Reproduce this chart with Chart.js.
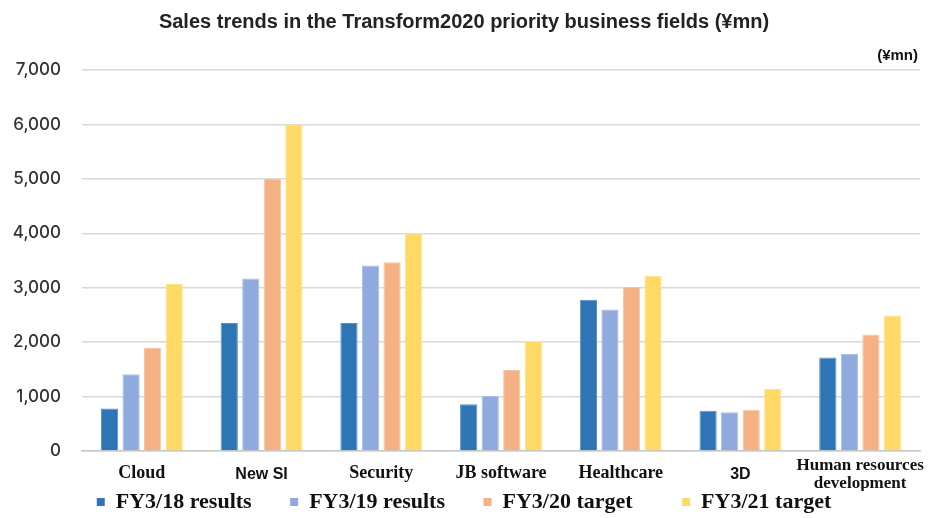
<!DOCTYPE html>
<html>
<head>
<meta charset="utf-8">
<title>Sales trends</title>
<script src="https://cdn.jsdelivr.net/npm/chart.js@4/dist/chart.umd.min.js"></script>
<style>
  html, body { margin: 0; padding: 0; background: #fff; }
  #wrap { width: 934px; height: 518px; position: relative; }
</style>
</head>
<body>
<div id="wrap"><canvas id="salesChart"></canvas></div>
<script>
// Business fields and sales figures (¥mn)
var fields = ["Cloud", "New SI", "Security", "JB software", "Healthcare", "3D", ["Human resources", "development"]];
var fy18 = [780, 2350, 2350, 860, 2780, 740, 1720];
var fy19 = [1410, 3170, 3410, 1010, 2600, 710, 1780];
var fy20 = [1900, 5000, 3470, 1490, 3020, 760, 2140];
var fy21 = [3070, 6000, 4000, 2020, 3220, 1140, 2490];
var seriesNames = ["FY3/18 results", "FY3/19 results", "FY3/20 target", "FY3/21 target"];
var colors = ["#2E75B6", "#8FAADC", "#F4B183", "#FFD966"];
var edgeColors = ["#5a92c6", "#aabfe6", "#f7c5a2", "#ffe28c"];
var yTicks = [0, 1000, 2000, 3000, 4000, 5000, 6000, 7000];

var serif = "'Liberation Serif', 'Times New Roman', serif";
var sans = "'Liberation Sans', Arial, sans-serif";
// extra spaces after each legend entry
var legendGaps = [7, 7, 9, 0];

// unit label above the top right of the plot
var unitLabel = {
  id: "unitLabel",
  afterDraw: function (chart) {
    var ctx = chart.ctx;
    var area = chart.chartArea;
    ctx.save();
    ctx.font = "bold 15px " + sans;
    ctx.fillStyle = "#111";
    ctx.textAlign = "right";
    ctx.textBaseline = "middle";
    ctx.fillText("(¥mn)", area.right - 2, area.top - 14);
    ctx.restore();
  }
};

var ctx = document.getElementById("salesChart").getContext("2d");
new Chart(ctx, {
  type: "bar",
  data: {
    labels: fields,
    datasets: [fy18, fy19, fy20, fy21].map(function (vals, i) {
      return {
        label: seriesNames[i],
        data: vals,
        backgroundColor: colors[i],
        borderColor: edgeColors[i],
        borderWidth: 1,
        categoryPercentage: 0.72,
        barPercentage: 0.8
      };
    })
  },
  options: {
    responsive: true,
    maintainAspectRatio: false,
    animation: false,
    layout: { padding: { left: 8, right: 14, bottom: -5 } },
    plugins: {
      title: {
        display: true,
        text: "Sales trends in the Transform2020 priority business fields (¥mn)",
        font: { family: sans, size: 20, weight: "bold" },
        color: "#222",
        padding: { top: 10, bottom: 36 }
      },
      legend: {
        position: "bottom",
        labels: {
          boxWidth: 8,
          boxHeight: 8,
          padding: 0,
          color: "#111",
          font: { family: serif, size: 22, weight: "bold", lineHeight: 1 },
          // trailing spaces keep the wide gaps between legend entries
          generateLabels: function (chart) {
            var items = Chart.defaults.plugins.legend.labels.generateLabels(chart);
            items.forEach(function (it, i) {
              it.text = it.text + " ".repeat(legendGaps[i]);
              it.strokeStyle = colors[i];
              it.lineWidth = 0;
            });
            return items;
          }
        }
      },
      tooltip: { enabled: false }
    },
    scales: {
      x: {
        grid: { display: false, drawTicks: false },
        border: { color: "#c8c8c8", width: 1.5 },
        afterFit: function (axis) {
          axis.height = 40;
          // the long last label may run into the right margin
          axis.paddingLeft = 0;
          axis.paddingRight = 0;
        },
        ticks: {
          color: "#111",
          padding: 15,
          autoSkip: false,
          maxRotation: 0,
          crossAlign: "center",
          font: function (c) {
            if (c.index === 1 || c.index === 5) {
              return { family: sans, size: 16, weight: "bold" };
            }
            if (c.index === 6) {
              return { family: serif, size: 17, weight: "bold", lineHeight: 1.06 };
            }
            return { family: serif, size: 18, weight: "bold" };
          }
        }
      },
      y: {
        min: 0,
        max: 7000,
        afterBuildTicks: function (axis) {
          axis.ticks = yTicks.map(function (v) { return { value: v }; });
        },
        afterFit: function (axis) { axis.width = 74; },
        grid: { color: "#d9d9d9", lineWidth: 1.5, drawTicks: false },
        border: { display: false },
        ticks: {
          color: "#333",
          padding: 21,
          font: { family: "Inter, " + sans, size: 17, weight: "500" },
          callback: function (v) { return v.toLocaleString("en-US"); }
        }
      }
    }
  },
  plugins: [unitLabel]
});
</script>
</body>
</html>
